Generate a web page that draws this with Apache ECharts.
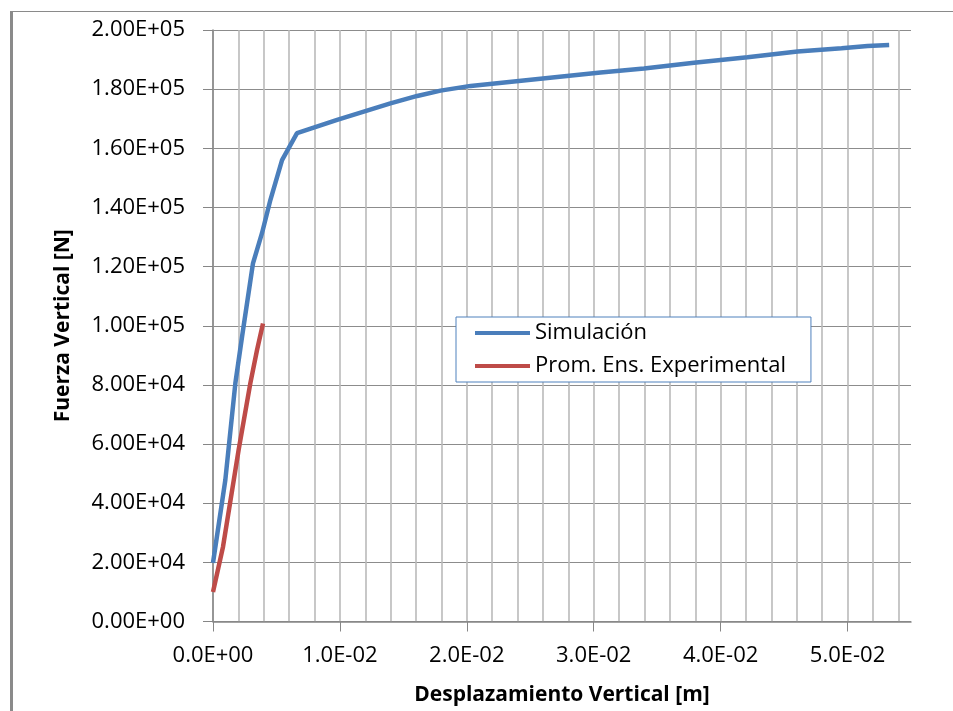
<!DOCTYPE html>
<html>
<head>
<meta charset="utf-8">
<script src="https://cdn.jsdelivr.net/npm/echarts@6/dist/echarts.min.js"></script>
<style>
html, body { margin: 0; padding: 0; background: #fff; }
#frame { position: absolute; left: 10px; top: 11px; width: 960px; height: 720px;
         border-left: 3px solid #8a8a8a; border-top: 1px solid #8a8a8a; }
#container { position: absolute; left: 0; top: 0; width: 953px; height: 711px; }
</style>
</head>
<body>
<div id="frame"></div>
<div id="container"></div>
<script>
// Simulación
var simX = [0, 0.00097, 0.00176, 0.00229, 0.00315, 0.00386, 0.00452, 0.00544, 0.00662, 0.00978,
            0.01398, 0.01609, 0.01793, 0.02030, 0.03054, 0.03396, 0.03790, 0.04211, 0.04606,
            0.04953, 0.05158, 0.05328];
var simY = [19800, 47800, 80500, 96300, 121100, 131300, 142500, 156000, 165100, 169600,
            175200, 177700, 179500, 181100, 185600, 187000, 188900, 190800, 192700,
            193800, 194600, 194900];
// Prom. Ens. Experimental
var expX = [0, 0.00079, 0.00202, 0.00294, 0.00347, 0.00394];
var expY = [10000, 25300, 58000, 80500, 91800, 100800];

var seriesNames = ['Simulación', 'Prom. Ens. Experimental'];
var xTitle = 'Desplazamiento Vertical [m]';
var yTitle = 'Fuerza Vertical [N]';

function pairs(xs, ys) {
    var res = [];
    for (var i = 0; i < xs.length; i++) {
        res.push([xs[i], ys[i]]);
    }
    return res;
}

// 2.00E+05 style labels
function sci(v, d) {
    var s = v.toExponential(d).split('e');
    var e = parseInt(s[1], 10);
    var a = Math.abs(e);
    return s[0] + 'E' + (e < 0 ? '-' : '+') + (a < 10 ? '0' : '') + a;
}

var font = '"Open Sans", "Liberation Sans", sans-serif';
var dom = document.getElementById('container');
var myChart = echarts.init(dom);
var option = {
    backgroundColor: 'transparent',
    animation: false,
    textStyle: { fontFamily: font },
    grid: { left: 213, right: 42, top: 30, bottom: 89.5 },
    legend: {
        orient: 'vertical',
        left: 456,
        top: 317,
        padding: [5, 25, 5, 19],
        icon: 'rect',
        itemWidth: 55,
        itemHeight: 4,
        itemGap: 11,
        backgroundColor: '#fff',
        borderColor: '#4f81bd',
        borderWidth: 1,
        textStyle: { fontFamily: font, fontSize: 22, color: '#000' },
        data: seriesNames
    },
    xAxis: [
        {
            type: 'value',
            min: 0,
            max: 0.055,
            interval: 0.01,
            name: xTitle,
            nameLocation: 'middle',
            nameGap: 63,
            nameTextStyle: { fontFamily: font, fontSize: 21, fontWeight: 'bold', color: '#000' },
            axisLine: { show: true, lineStyle: { color: '#868686', width: 1.5 } },
            axisTick: { show: true, inside: false, length: 10, lineStyle: { color: '#868686' } },
            axisLabel: {
                showMaxLabel: false,
                margin: 23,
                fontFamily: font, fontSize: 22, color: '#000',
                formatter: function (v) { return sci(v, 1); }
            },
            splitLine: { show: false }
        },
        {
            type: 'value',
            min: 0,
            max: 0.055,
            interval: 0.002,
            axisLine: { show: false },
            axisTick: { show: false },
            axisLabel: { show: false },
            splitLine: { show: true, showMaxLine: false, lineStyle: { color: '#bababa', width: 1.6 } }
        }
    ],
    yAxis: {
        type: 'value',
        min: 0,
        max: 200000,
        interval: 20000,
        name: yTitle,
        nameLocation: 'middle',
        nameGap: 139,
        nameTextStyle: { fontFamily: font, fontSize: 21, fontWeight: 'bold', color: '#000' },
        axisLine: { show: true, lineStyle: { color: '#868686', width: 1.5 } },
        axisTick: { show: true, inside: false, length: 10, lineStyle: { color: '#868686' } },
        axisLabel: {
            margin: 28,
            fontFamily: font, fontSize: 22, color: '#000',
            formatter: function (v) { return sci(v, 2); }
        },
        splitLine: { show: true, lineStyle: { color: '#8c8c8c', width: 1.2 } }
    },
    series: [
        {
            name: seriesNames[0],
            type: 'line',
            xAxisIndex: 0,
            symbol: 'none',
            itemStyle: { color: '#4a7ebb' },
            lineStyle: { width: 4.5, color: '#4a7ebb' },
            data: pairs(simX, simY)
        },
        {
            name: seriesNames[1],
            type: 'line',
            xAxisIndex: 0,
            symbol: 'none',
            itemStyle: { color: '#be4b48' },
            lineStyle: { width: 4.5, color: '#be4b48' },
            data: pairs(expX, expY)
        }
    ]
};
if (option && typeof option === "object") {
    myChart.setOption(option, true);
}
</script>
</body>
</html>
